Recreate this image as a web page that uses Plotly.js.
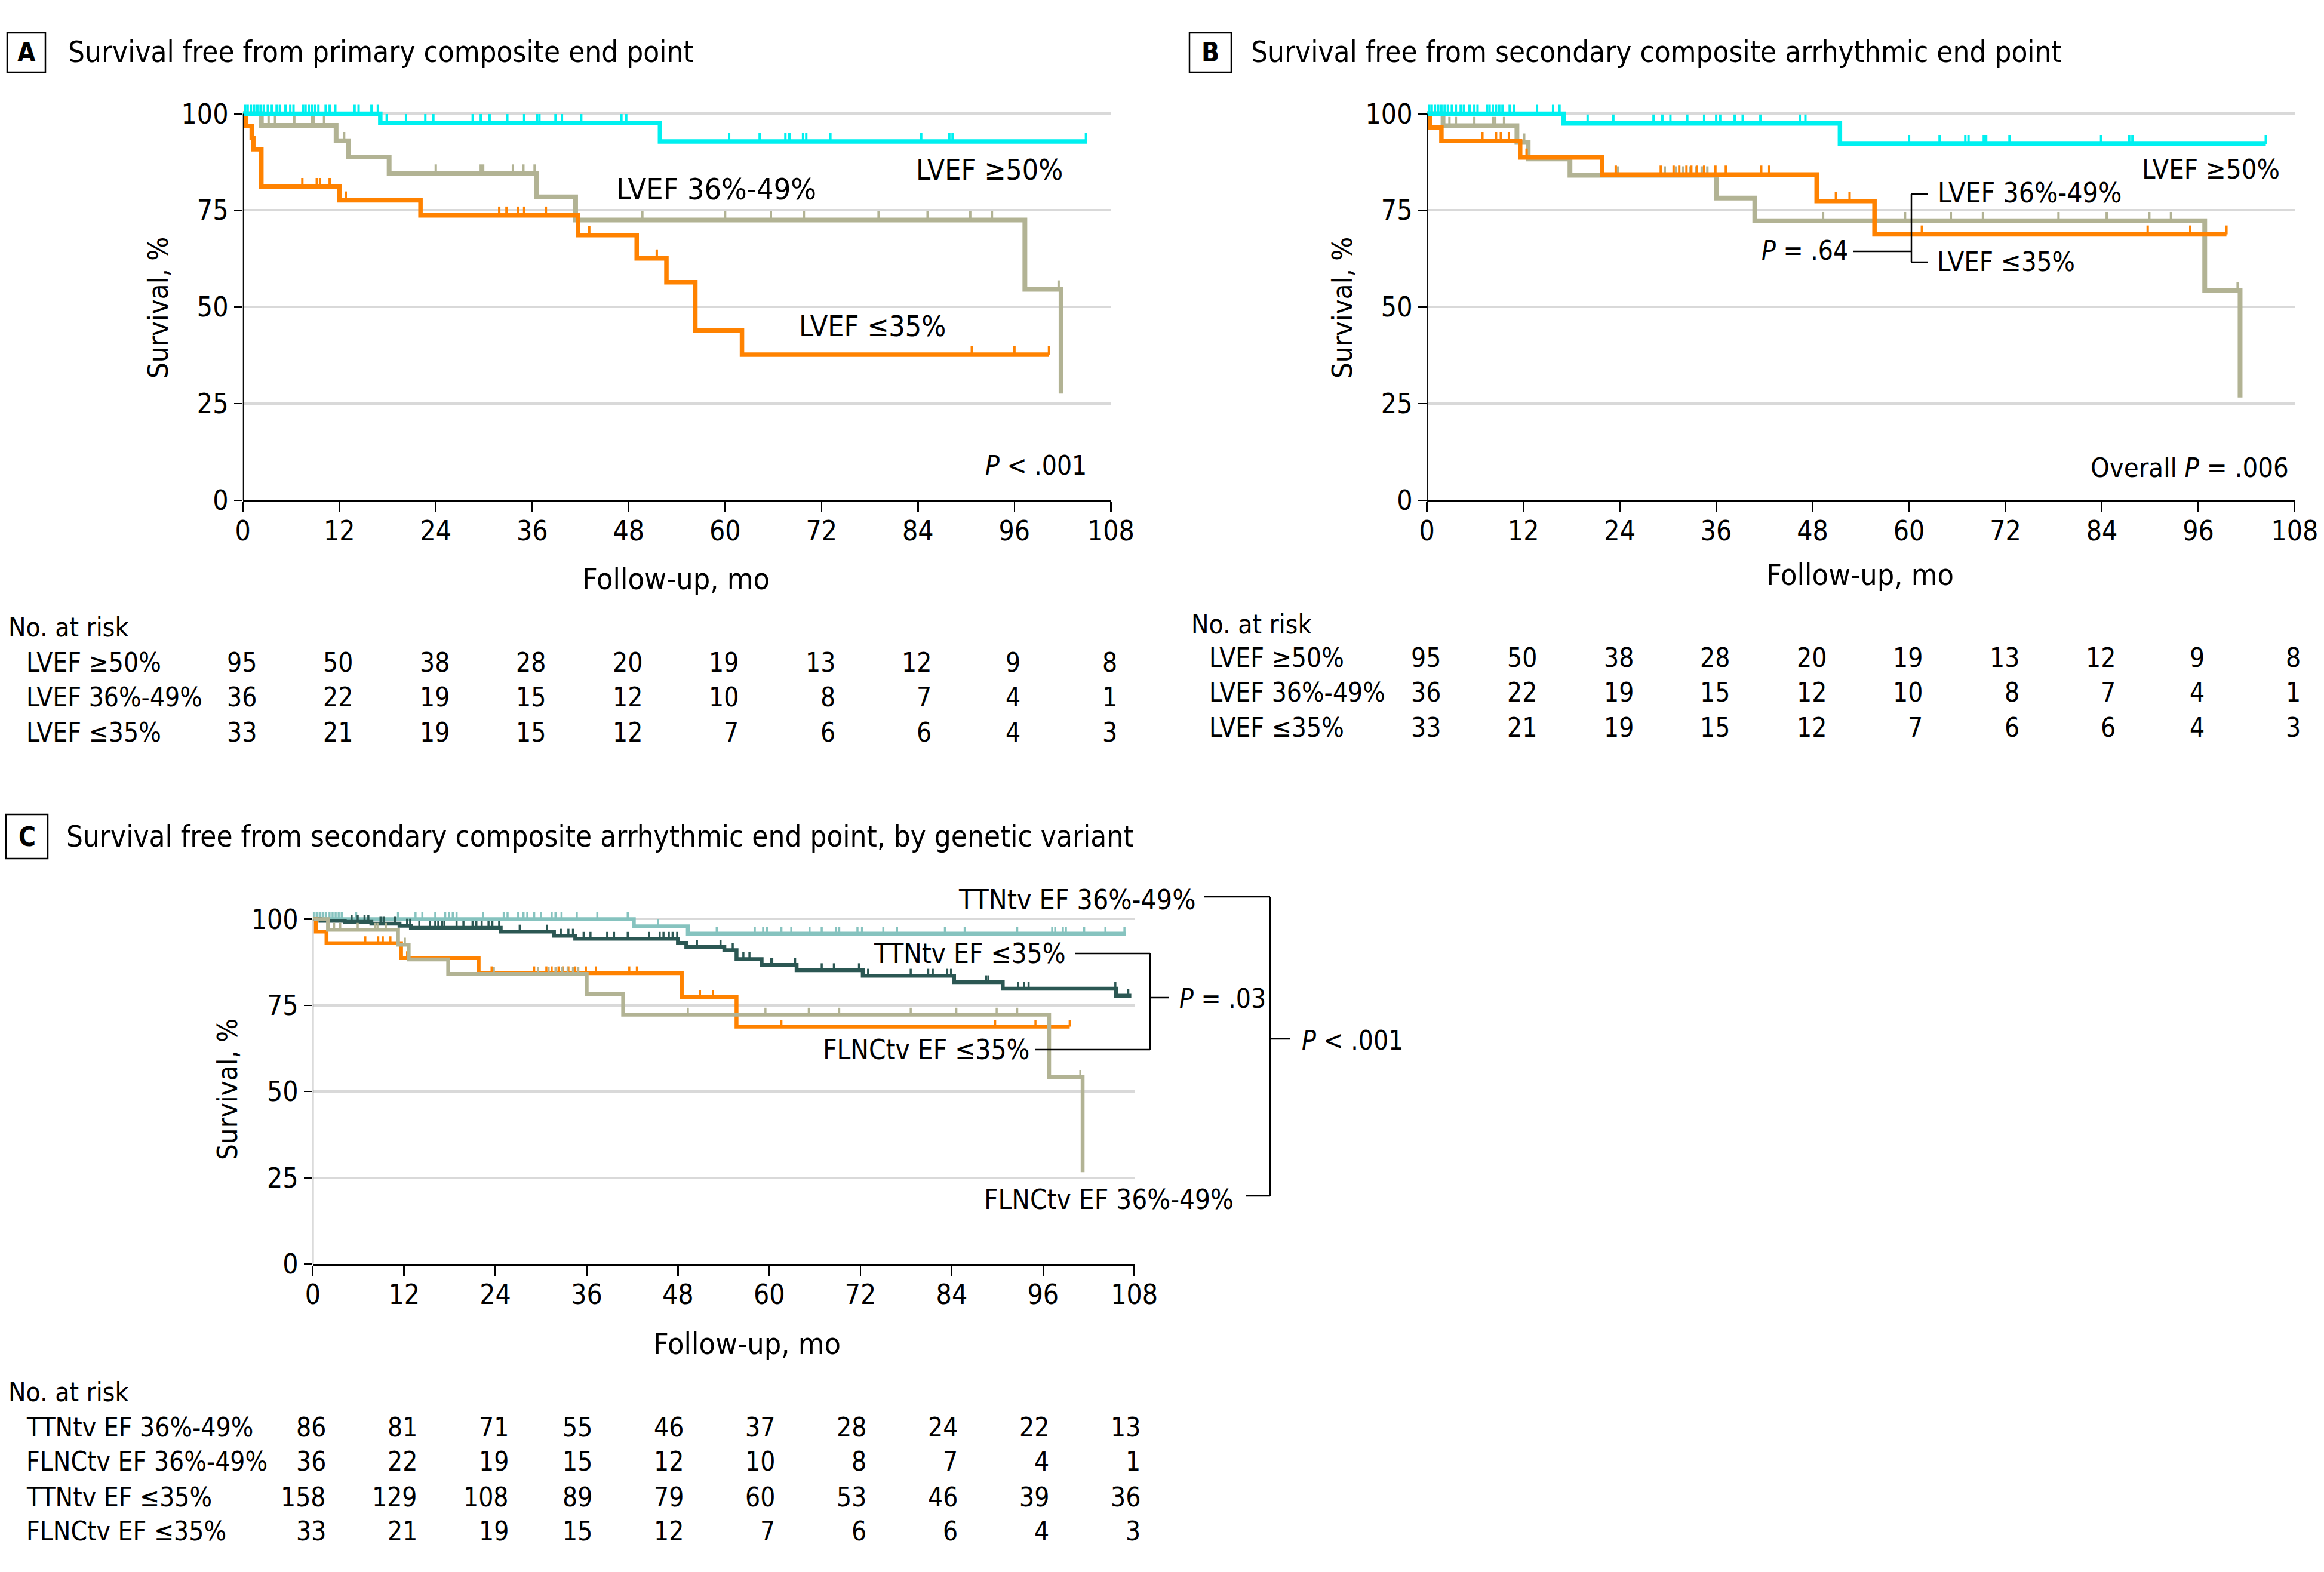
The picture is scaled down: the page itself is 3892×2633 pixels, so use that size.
<!DOCTYPE html>
<html><head><meta charset="utf-8">
<script src="https://cdn.plot.ly/plotly-3.0.1.min.js"></script>
<style>html,body{margin:0;padding:0;background:#fff}</style>
</head><body><div id="chart" style="width:3892px;height:2633px"></div>
<script>
// ---------------- DATA ----------------
const monthTicks = [0, 12, 24, 36, 48, 60, 72, 84, 96, 108];

// Panel A: primary composite end point
const A_ge50_t = [0, 17.1, 51.9, 105.0];
const A_ge50_s = [100, 97.6, 92.8, 92.8];
const A_ge50_c = [0.3, 0.6, 1.0, 1.4, 1.8, 2.2, 2.6, 3.1, 3.6, 4.2, 4.6, 5.3, 5.9, 6.3, 7.5, 7.8, 8.2, 8.6, 9.0, 9.4, 10.3, 10.8, 11.5, 13.9, 14.4, 16.0, 16.8,
  17.9, 20.3, 22.7, 23.7, 28.6, 29.6, 30.7, 32.9, 35.0, 36.6, 36.9, 38.9, 39.7, 42.1, 47.1, 47.7,
  60.5, 64.3, 67.5, 68.0, 69.7, 70.1, 73.1, 84.4, 87.9, 88.3, 104.9];
const A_mid_t = [0, 2.3, 11.6, 13.1, 18.2, 36.5, 41.4, 97.3, 101.8];
const A_mid_s = [100, 97.0, 93.0, 88.8, 84.6, 78.5, 72.5, 54.6, 27.6];
const A_mid_c = [3.2, 4.0, 6.4, 8.6, 8.8, 10.1, 12.6, 24.0, 29.6, 29.9, 33.6, 34.9, 36.3, 49.7, 60.0, 65.7, 69.8, 79.1, 85.2, 90.5, 93.2, 101.5];
const A_low_t = [0, 0.4, 1.1, 1.3, 2.3, 12.0, 22.1, 41.7, 49.0, 52.7, 56.3, 62.1, 100.3];
const A_low_s = [100, 96.8, 93.7, 90.8, 81.1, 77.6, 73.7, 68.6, 62.6, 56.4, 44.0, 37.7, 37.7];
const A_low_c = [7.4, 9.2, 9.6, 10.8, 12.8, 31.9, 32.8, 34.2, 35.0, 37.7, 43.1, 51.5, 90.7, 96.0, 100.3];

// Panel B: secondary composite arrhythmic end point
const B_ge50_t = [0, 17.0, 51.4, 104.4];
const B_ge50_s = [100, 97.5, 92.2, 92.2];
const B_ge50_c = [0.3, 0.6, 1.0, 1.4, 1.8, 2.2, 2.6, 3.1, 3.6, 4.2, 4.6, 5.3, 5.9, 6.3, 7.5, 7.8, 8.2, 8.6, 9.0, 9.4, 10.3, 10.8, 13.7, 15.7, 16.5,
  20.0, 23.2, 28.2, 29.3, 30.3, 32.4, 34.5, 36.0, 36.5, 38.3, 39.3, 41.5, 46.4, 47.1,
  60.0, 63.8, 67.0, 67.4, 69.3, 69.6, 72.5, 83.9, 87.4, 87.8, 104.4];
const B_mid_t = [0, 2.0, 11.2, 12.6, 17.8, 36.0, 40.8, 96.8, 101.2];
const B_mid_s = [100, 96.9, 92.6, 88.3, 84.1, 78.2, 72.3, 54.2, 26.6];
const B_mid_c = [2.8, 3.6, 5.9, 8.2, 8.5, 9.6, 12.1, 23.8, 29.6, 31.0, 31.9, 32.8, 33.5, 34.2, 34.9, 49.3, 59.5, 65.2, 69.2, 78.6, 84.6, 89.9, 92.6, 100.9];
const B_low_t = [0, 0.4, 1.8, 11.6, 21.8, 48.5, 55.7, 99.5];
const B_low_s = [100, 96.4, 93.0, 88.7, 84.3, 77.4, 68.8, 68.8];
const B_low_c = [6.9, 8.6, 9.2, 10.2, 12.4, 23.5, 29.1, 30.7, 31.4, 32.3, 32.9, 33.6, 34.5, 35.9, 37.2, 41.6, 42.6, 50.9, 52.6, 61.6, 89.7, 95.0, 99.5];

// Panel C: by genetic variant (FLNCtv curves are the panel B LVEF 36%-49% / ≤35% curves)
const C_ttn36_t = [0, 42.2, 49.3, 106.9];
const C_ttn36_s = [100, 97.9, 95.8, 95.8];
const C_ttn36_c = [0.1, 0.5, 0.9, 1.3, 1.7, 2.2, 2.6, 3.0, 3.4, 3.8, 5.7, 11.2, 13.5, 14.4, 16.1, 17.4, 17.9, 18.4, 18.9, 22.4, 25.1, 25.6, 27.0, 27.7, 28.2, 29.1, 30.0,
  31.4, 31.9, 32.7, 34.7, 37.4, 41.4, 45.4, 53.1, 58.1, 59.2, 59.7, 61.6, 62.9, 65.3, 66.9, 68.8, 69.2, 71.6, 72.2, 75.0, 76.8, 83.1, 85.7, 92.6,
  97.2, 97.6, 98.6, 99.0, 101.4, 104.2, 106.7];
const C_ttn35_t = [0, 1.0, 4.2, 7.7, 11.4, 12.9, 24.7, 31.7, 34.5, 48.0, 49.1, 54.1, 55.7, 59.0, 63.6, 72.3, 84.3, 90.7, 105.6, 107.6];
const C_ttn35_s = [100, 99.5, 99.2, 98.7, 98.1, 97.5, 96.4, 95.2, 94.3, 93.1, 92.0, 91.0, 88.4, 86.7, 85.2, 83.6, 81.7, 79.8, 77.8, 77.8];
const C_ttn35_c = [5.1, 5.9, 6.8, 7.3, 8.9, 9.3, 10.8, 12.4, 12.8, 14.0, 15.4, 16.1, 16.5, 17.0, 17.3, 18.9, 19.8, 21.0, 21.5, 22.2, 23.1, 23.6, 24.5, 27.2,
  30.8, 32.6, 33.6, 34.2, 35.6, 36.5, 38.7, 39.6, 41.4, 44.2, 45.6, 46.1, 46.8, 47.3, 47.9, 50.5, 53.6, 55.2, 56.6, 57.4, 60.2, 60.4, 63.4, 66.9,
  68.5, 71.8, 73.0, 78.6, 80.9, 81.5, 83.4, 83.9, 88.5, 88.8, 92.7, 93.5, 94.1, 105.5, 107.2];

// Numbers at risk
const riskAB_labels = ['LVEF ≥50%', 'LVEF 36%-49%', 'LVEF ≤35%'];
const riskAB_ge50 = [95, 50, 38, 28, 20, 19, 13, 12, 9, 8];
const riskAB_mid = [36, 22, 19, 15, 12, 10, 8, 7, 4, 1];
const riskAB_low = [33, 21, 19, 15, 12, 7, 6, 6, 4, 3];
const riskC_labels = ['TTNtv EF 36%-49%', 'FLNCtv EF 36%-49%', 'TTNtv EF ≤35%', 'FLNCtv EF ≤35%'];
const riskC_ttn36 = [86, 81, 71, 55, 46, 37, 28, 24, 22, 13];
const riskC_flnc36 = [36, 22, 19, 15, 12, 10, 8, 7, 4, 1];
const riskC_ttn35 = [158, 129, 108, 89, 79, 60, 53, 46, 39, 36];
const riskC_flnc35 = [33, 21, 19, 15, 12, 7, 6, 6, 4, 3];

// ---------------- STYLE ----------------
const W = 3892, H = 2633;
const FONT = 'DejaVu Sans Condensed, Liberation Sans Narrow, Roboto, sans-serif';
const CYAN = '#00F0F0', ORANGE = '#FF8200', KHAKI = '#B2B394', LTEAL = '#86C3BF', DTEAL = '#2B5753';
const px = v => v / W, py = v => 1 - v / H;

function stepAt(t, s, x) { let v = s[0]; for (let i = 0; i < t.length; i++) { if (t[i] <= x) v = s[i]; else break; } return v; }
function curve(xa, ya, t, s, color, w) {
  return {type: 'scatter', mode: 'lines', x: t, y: s, xaxis: xa, yaxis: ya, line: {shape: 'hv', color: color, width: w}, hoverinfo: 'skip', showlegend: false};
}
function censor(xa, ya, c, t, s, color, len, th) {
  return {type: 'scatter', mode: 'markers', x: c, y: c.map(v => stepAt(t, s, v)), xaxis: xa, yaxis: ya,
    marker: {size: 1, color: color, opacity: 0},
    error_y: {type: 'constant', symmetric: false, value: len, valueminus: 0, width: 0, thickness: th, color: color},
    hoverinfo: 'skip', showlegend: false};
}

const traces = [
  curve('x', 'y', A_mid_t, A_mid_s, KHAKI, 8), censor('x', 'y', A_mid_c, A_mid_t, A_mid_s, KHAKI, 2.3, 4),
  curve('x', 'y', A_low_t, A_low_s, ORANGE, 7.5), censor('x', 'y', A_low_c, A_low_t, A_low_s, ORANGE, 2.3, 4),
  curve('x', 'y', A_ge50_t, A_ge50_s, CYAN, 7.5), censor('x', 'y', A_ge50_c, A_ge50_t, A_ge50_s, CYAN, 2.3, 4),
  curve('x2', 'y2', B_mid_t, B_mid_s, KHAKI, 8), censor('x2', 'y2', B_mid_c, B_mid_t, B_mid_s, KHAKI, 2.3, 4),
  curve('x2', 'y2', B_low_t, B_low_s, ORANGE, 7.5), censor('x2', 'y2', B_low_c, B_low_t, B_low_s, ORANGE, 2.3, 4),
  curve('x2', 'y2', B_ge50_t, B_ge50_s, CYAN, 7.5), censor('x2', 'y2', B_ge50_c, B_ge50_t, B_ge50_s, CYAN, 2.3, 4),
  curve('x3', 'y3', C_ttn36_t, C_ttn36_s, LTEAL, 6.5), censor('x3', 'y3', C_ttn36_c, C_ttn36_t, C_ttn36_s, LTEAL, 2.0, 3.5),
  curve('x3', 'y3', C_ttn35_t, C_ttn35_s, DTEAL, 6.5), censor('x3', 'y3', C_ttn35_c, C_ttn35_t, C_ttn35_s, DTEAL, 2.0, 3.5),
  curve('x3', 'y3', B_low_t, B_low_s, ORANGE, 6.5), censor('x3', 'y3', B_low_c, B_low_t, B_low_s, ORANGE, 2.0, 3.5),
  curve('x3', 'y3', B_mid_t, B_mid_s, KHAKI, 6.5), censor('x3', 'y3', B_mid_c, B_mid_t, B_mid_s, KHAKI, 2.0, 3.5)
];

const tickFont = {family: FONT, size: 46, color: '#000'};
function xax(domain, anchor) {
  return {domain: domain, anchor: anchor, range: [0, 108], tickvals: monthTicks, ticks: 'outside', ticklen: 17, tickwidth: 2.5, tickcolor: '#000',
    ticklabelstandoff: -8,
    showline: true, linewidth: 3, linecolor: '#000', showgrid: false, zeroline: false, tickfont: tickFont, fixedrange: true};
}
function yax(domain, anchor) {
  return {domain: domain, anchor: anchor, range: [0, 104], tickvals: [0, 25, 50, 75, 100], ticks: 'outside', ticklen: 14, tickwidth: 2.5, tickcolor: '#000',
    showline: false, showgrid: true, gridcolor: '#D9D9D9', gridwidth: 4, zeroline: false, tickfont: tickFont, fixedrange: true};
}

const ann = [];
const shapes = [];
function txt(text, x, y, xanchor, size, extra) {
  ann.push(Object.assign({text: text, x: px(x), y: py(y), xref: 'paper', yref: 'paper', xanchor: xanchor, yanchor: 'middle', showarrow: false,
    font: {family: FONT, size: size, color: '#000'}}, extra || {}));
}
function pline(x0, y0, x1, y1, w) {
  shapes.push({type: 'line', xref: 'paper', yref: 'paper', x0: px(x0), y0: py(y0), x1: px(x1), y1: py(y1), line: {color: '#000', width: w || 2.5}});
}
function panelHead(letter, bx0, by0, bx1, by1, title, tx) {
  shapes.push({type: 'rect', xref: 'paper', yref: 'paper', x0: px(bx0), y0: py(by0), x1: px(bx1), y1: py(by1), line: {color: '#000', width: 2.5}});
  txt('<b>' + letter + '</b>', (bx0 + bx1) / 2, (by0 + by1) / 2, 'center', 44);
  txt(title, tx, (by0 + by1) / 2, 'left', 49);
}
function yAxisLine(xa, ya) {
  shapes.push({type: 'line', xref: xa, yref: ya, x0: 0, x1: 0, y0: 0, y1: 100, line: {color: '#000', width: 2.5}});
}
function riskTable(xa, headY, rowYs, labels, rows, labelX, headX, offset) {
  txt('No. at risk', headX, headY, 'left', 44);
  labels.forEach((l, i) => txt(l, labelX, rowYs[i], 'left', 44));
  monthTicks.forEach((m, j) => {
    const maxLen = Math.max(...rows.map(r => String(r[j]).length));
    rows.forEach((r, i) => {
      ann.push({text: String(r[j]), x: m, y: py(rowYs[i]), xref: xa, yref: 'paper', xanchor: 'right', yanchor: 'middle',
        xshift: maxLen * 12.5 + offset, showarrow: false, font: {family: FONT, size: 44, color: '#000'}});
    });
  });
}

// Panel A
panelHead('A', 12, 55, 76, 121, 'Survival free from primary composite end point', 112);
txt('LVEF ≥50%', 1532, 284, 'left', 48);
txt('LVEF 36%-49%', 1030, 317, 'left', 50);
txt('LVEF ≤35%', 1336, 546, 'left', 48);
txt('<i>P</i> < .001', 1822, 779, 'right', 44);
txt('Survival, %', 264, 515, 'center', 47, {textangle: -90});
txt('Follow-up, mo', 1132, 970, 'center', 50);
yAxisLine('x', 'y');
riskTable('x', 1050, [1109, 1167, 1226], riskAB_labels, [riskAB_ge50, riskAB_mid, riskAB_low], 42, 12, 0);

// Panel B
panelHead('B', 1992, 55, 2062, 121, 'Survival free from secondary composite arrhythmic end point', 2093);
txt('LVEF ≥50%', 3585, 284, 'left', 45);
txt('LVEF 36%-49%', 3243, 323, 'left', 46);
txt('LVEF ≤35%', 3242, 439, 'left', 45);
txt('<i>P</i> = .64', 3097, 420, 'right', 44);
txt('Overall <i>P</i> = .006', 3835, 784, 'right', 45);
pline(3201, 325, 3229, 325); pline(3201, 325, 3201, 439); pline(3201, 439, 3229, 439); pline(3103, 421, 3201, 421);
txt('Survival, %', 2247, 515, 'center', 47, {textangle: -90});
txt('Follow-up, mo', 3115, 963, 'center', 50);
yAxisLine('x2', 'y2');
riskTable('x2', 1045, [1102, 1159, 1219], riskAB_labels, [riskAB_ge50, riskAB_mid, riskAB_low], 2023, 1993, 0);

// Panel C
panelHead('C', 10, 1364, 80, 1438, 'Survival free from secondary composite arrhythmic end point, by genetic variant', 109);
txt('TTNtv EF 36%-49%', 2005, 1507, 'right', 46);
txt('FLNCtv EF 36%-49%', 2068, 2009, 'right', 45.5);
txt('TTNtv EF ≤35%', 1787, 1597, 'right', 45.5);
txt('FLNCtv EF ≤35%', 1727, 1758, 'right', 45.5);
txt('<i>P</i> = .03', 1973, 1672, 'left', 44);
txt('<i>P</i> < .001', 2178, 1742, 'left', 44);
pline(2016, 1502, 2127, 1502); pline(2127, 1502, 2127, 2003); pline(2086, 2003, 2127, 2003); pline(2127, 1740, 2160, 1740);
pline(1800, 1597, 1926, 1597); pline(1926, 1597, 1926, 1758); pline(1733, 1758, 1926, 1758); pline(1926, 1671, 1958, 1671);
txt('Survival, %', 380, 1824, 'center', 47, {textangle: -90});
txt('Follow-up, mo', 1251, 2251, 'center', 50);
yAxisLine('x3', 'y3');
riskTable('x3', 2331, [2390, 2447, 2507, 2564], riskC_labels, [riskC_ttn36, riskC_flnc36, riskC_ttn35, riskC_flnc35], 42, 12, -13);

const layout = {
  width: W, height: H, margin: {l: 0, r: 0, t: 0, b: 0}, paper_bgcolor: '#fff', plot_bgcolor: '#fff', showlegend: false,
  font: {family: FONT, color: '#000'},
  xaxis: xax([0.1045, 0.4780], 'y'), yaxis: yax([0.6817, 0.9375], 'x'),
  xaxis2: xax([0.6140, 0.9874], 'y2'), yaxis2: yax([0.6817, 0.9375], 'x2'),
  xaxis3: xax([0.1346, 0.4881], 'y3'), yaxis3: yax([0.1960, 0.4241], 'x3'),
  annotations: ann, shapes: shapes
};
Plotly.newPlot('chart', traces, layout, {staticPlot: true, displayModeBar: false});
</script></body></html>
